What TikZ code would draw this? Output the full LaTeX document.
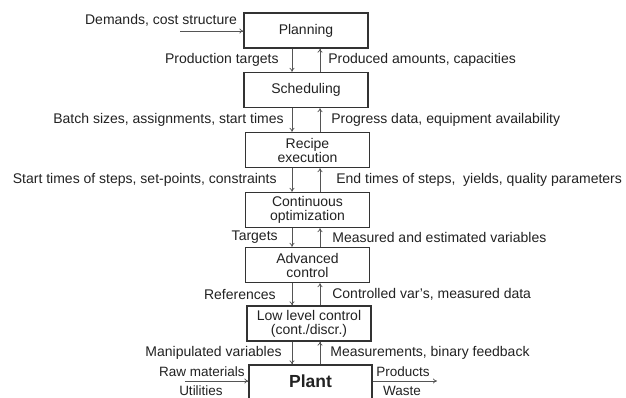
\documentclass[tikz,border=0pt]{standalone}
\usepackage{fontspec}
\setmainfont{Liberation Sans}
\usetikzlibrary{arrows.meta,calc}
\definecolor{boxline}{HTML}{333333}
\definecolor{arrline}{HTML}{555555}
\definecolor{txt}{HTML}{222222}
\begin{document}
\begin{tikzpicture}[x=1pt,y=-1pt,
  box/.style={draw=boxline,line width=1.3pt,minimum width=124pt,minimum height=35pt,inner sep=0pt,align=center,font=\fontsize{14}{14}\selectfont,text=txt},
  arr/.style={draw=arrline,line width=0.7pt,-{To[length=4pt,width=5pt]}},
  lbl/.style={font=\fontsize{14}{14}\selectfont,text=txt,inner sep=1pt},
  sidelbl/.style={font=\fontsize{13.5}{14}\selectfont,text=txt,inner sep=0pt}]
\clip (0,0) rectangle (626,398);
\fill[white] (0,0) rectangle (626,398);
\coordinate (dx) at (292,0);
\coordinate (ux) at (320,0);
\node[box] (plan) at (306,30.5) {Planning};
\node[box] (sched) at (306,90) {Scheduling};
\node[box] (rec) at (307.5,150) {Recipe\\execution};
\node[box] (cont) at (307.5,210) {Continuous\\optimization};
\node[box] (adv) at (307.5,265) {Advanced\\control};
\node[box] (low) at (309,323.5) {Low level control\\(cont./discr.)};
\node[box,minimum width=123pt,minimum height=60pt] (plant) at (310.5,395) {};
\node[font=\fontsize{17.5}{18}\selectfont\bfseries,text=txt] (plantlbl) at (310.5,381) {Plant};
% down arrows
\draw[arr] (plan.south -| dx) -- node[lbl,left=12pt] {Production targets} (sched.north -| dx);
\draw[arr] (sched.south -| dx) -- node[lbl,left=7pt] {Batch sizes, assignments, start times} (rec.north -| dx);
\draw[arr] (rec.south -| dx) -- node[lbl,left=14pt] {Start times of steps, set-points, constraints} (cont.north -| dx);
\draw[arr] (cont.south -| dx) -- node[lbl,left=13pt] {Targets} (adv.north -| dx);
\draw[arr] (adv.south -| dx) -- node[lbl,left=15pt] {References} (low.north -| dx);
\draw[arr] (low.south -| dx) -- node[lbl,left=9pt] {Manipulated variables} (plant.north -| dx);
% up arrows
\draw[arr] (sched.north -| ux) -- node[lbl,right=7pt] {Produced amounts, capacities} (plan.south -| ux);
\draw[arr] (rec.north -| ux) -- node[lbl,right=10pt] {Progress data, equipment availability} (sched.south -| ux);
\draw[arr] (cont.north -| ux) -- node[lbl,right=15pt] {End times of steps,\ \ yields, quality parameters} (rec.south -| ux);
\draw[arr] (adv.north -| ux) -- node[lbl,right=11pt] {Measured and estimated variables} (cont.south -| ux);
\draw[arr] (low.north -| ux) -- node[lbl,right=11pt] {Controlled var's, measured data} (adv.south -| ux);
\draw[arr] (plant.north -| ux) -- node[lbl,right=9pt] {Measurements, binary feedback} (low.south -| ux);
% side inputs/outputs
\coordinate (din) at (180,31);
\draw[arr] (din) -- (din -| plan.west);
\node[lbl,anchor=south] (dem) at (161,27) {Demands, cost structure};
\coordinate (rin) at (185,381);
\draw[arr] (rin) -- (rin -| plant.west);
\node[sidelbl,anchor=base] (raw) at (202,376) {Raw materials};
\node[sidelbl,anchor=base] (util) at (201,395) {Utilities};
\coordinate (pout) at (437,381);
\draw[arr] (pout -| plant.east) -- (pout);
\node[sidelbl,anchor=base] (prod) at (403,376.5) {Products};
\node[sidelbl,anchor=base] (waste) at (402,395) {Waste};
\end{tikzpicture}
\end{document}
